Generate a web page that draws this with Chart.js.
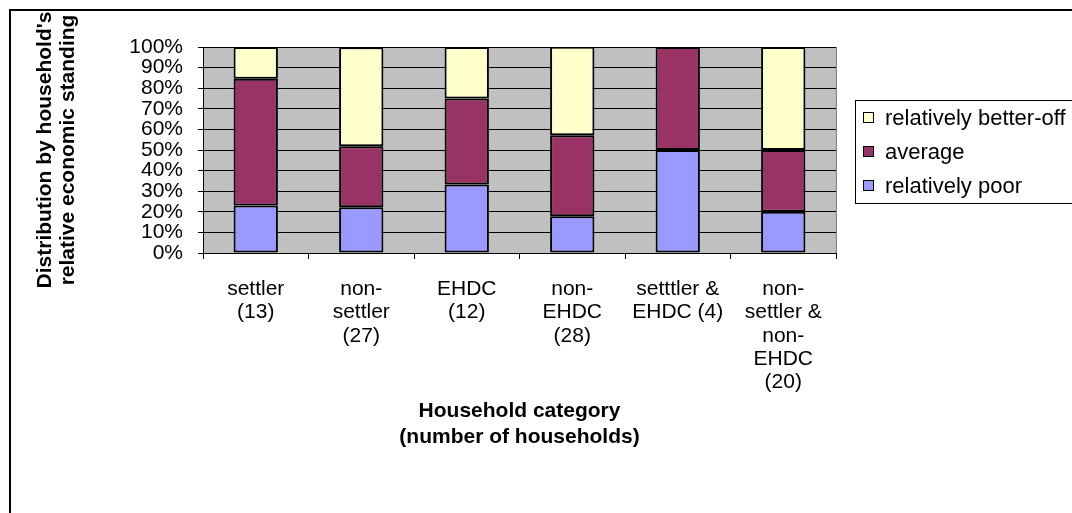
<!DOCTYPE html>
<html>
<head>
<meta charset="utf-8">
<script src="https://cdn.jsdelivr.net/npm/chart.js@4.4.1/dist/chart.umd.min.js"></script>
<style>
  html, body { margin: 0; padding: 0; background: #ffffff; }
  canvas { display: block; }
</style>
</head>
<body>
<canvas id="c" width="1072" height="513"></canvas>
<script>
// ---- data ----
const categories = [
  ["settler", "(13)"],
  ["non-", "settler", "(27)"],
  ["EHDC", "(12)"],
  ["non-", "EHDC", "(28)"],
  ["setttler &", "EHDC (4)"],
  ["non-", "settler &", "non-", "EHDC", "(20)"]
];
const seriesNames = ["relatively poor", "average", "relatively better-off"];
const relativelyPoor = [23.1, 22.2, 33.3, 17.9, 50.0, 20.0];
const average        = [61.5, 29.6, 41.7, 39.3, 50.0, 30.0];
const betterOff      = [15.4, 48.1, 25.0, 42.9, 0.0, 50.0];
const yTickLabels = ["0%", "10%", "20%", "30%", "40%", "50%", "60%", "70%", "80%", "90%", "100%"];
const xAxisTitle = ["Household category", "(number of households)"];
const yAxisTitle = ["Distribution by household's", "relative economic standing"];

const seriesColors = ["#9999FF", "#993366", "#FFFFCC"];
const FONT = "'Liberation Sans', Arial, sans-serif";

const decorPlugin = {
  id: 'decor',
  beforeDraw(chart) {
    const ctx = chart.ctx;
    const a = chart.chartArea;
    ctx.save();
    ctx.fillStyle = '#ffffff';
    ctx.fillRect(0, 0, chart.width, chart.height);
    ctx.fillStyle = '#C0C0C0';
    ctx.fillRect(a.left, a.top, a.right - a.left, a.bottom - a.top);
    ctx.restore();
  },
  afterDraw(chart) {
    const ctx = chart.ctx;
    const a = chart.chartArea;
    ctx.save();
    // right border of plot area (gray)
    ctx.strokeStyle = '#808080';
    ctx.lineWidth = 1;
    ctx.beginPath();
    ctx.moveTo(a.right + 0.5, a.top);
    ctx.lineTo(a.right + 0.5, a.bottom);
    ctx.stroke();
    // outer frame
    ctx.strokeStyle = '#000000';
    ctx.lineWidth = 2;
    ctx.beginPath();
    ctx.moveTo(10, chart.height + 5);
    ctx.lineTo(10, 10);
    ctx.lineTo(chart.width + 5, 10);
    ctx.stroke();
    // legend
    const lx = 855.5, ly = 100.5, lh = 103;
    ctx.lineWidth = 1;
    ctx.strokeStyle = '#000000';
    ctx.strokeRect(lx, ly, chart.width + 20 - lx, lh);
    const ds = chart.data.datasets;
    const rowsY = [118, 152, 186];
    ctx.font = '22px ' + FONT;
    ctx.textBaseline = 'middle';
    ctx.textAlign = 'left';
    for (let i = 0; i < ds.length; i++) {
      const d = ds[ds.length - 1 - i];
      const y = rowsY[i];
      ctx.fillStyle = d.backgroundColor;
      ctx.fillRect(863.5, y - 5.5, 10, 10);
      ctx.strokeRect(863.5, y - 5.5, 10, 10);
      ctx.fillStyle = '#000000';
      ctx.fillText(d.label, 885, y + 1);
    }
    ctx.restore();
  }
};

const datasets = [relativelyPoor, average, betterOff].map((vals, i) => ({
  label: seriesNames[i],
  data: vals,
  backgroundColor: seriesColors[i],
  borderColor: '#000000',
  borderWidth: 2,
  borderSkipped: false,
  barPercentage: 0.42,
  categoryPercentage: 1.0
}));

new Chart(document.getElementById('c'), {
  type: 'bar',
  data: { labels: categories, datasets: datasets },
  options: {
    responsive: false,
    animation: false,
    devicePixelRatio: 1,
    layout: { padding: { top: 47, right: 236, left: 0, bottom: 0 } },
    plugins: { legend: { display: false }, tooltip: { enabled: false } },
    scales: {
      x: {
        stacked: true,
        afterFit(scale) { scale.height = 260; },
        grid: { display: true, drawOnChartArea: false, drawTicks: true, tickLength: 6, color: '#000000', offset: true },
        border: { display: true, color: '#000000', width: 1 },
        ticks: {
          color: '#000000', padding: 19, maxRotation: 0, autoSkip: false,
          font: { family: FONT, size: 21, lineHeight: 1.1 }
        },
        title: {
          display: true, text: xAxisTitle, color: '#000000',
          font: { family: FONT, size: 21, weight: 'bold', lineHeight: 1.24 },
          padding: { top: 0, bottom: 63 }
        }
      },
      y: {
        stacked: true,
        min: 0, max: 100,
        afterFit(scale) { scale.width = 203; },
        grid: { color: '#000000', lineWidth: 1, drawTicks: true, tickLength: 5 },
        border: { display: true, color: '#000000', width: 1 },
        ticks: {
          stepSize: 10, color: '#000000', padding: 15, autoSkip: false,
          font: { family: FONT, size: 21 },
          callback: (v, i) => yTickLabels[i]
        },
        title: {
          display: true, text: yAxisTitle, color: '#000000',
          font: { family: FONT, size: 21, weight: 'bold', lineHeight: 1.1 },
          padding: { top: 34, bottom: 0 }
        }
      }
    }
  },
  plugins: [decorPlugin]
});
</script>
</body>
</html>
